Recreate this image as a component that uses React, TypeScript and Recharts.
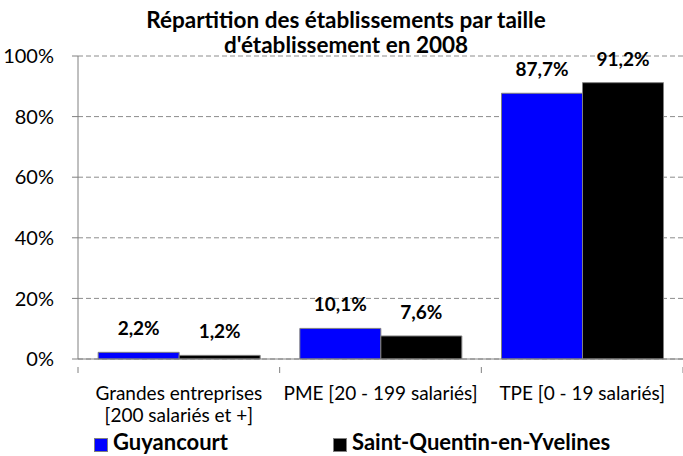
import { BarChart, Bar, XAxis, YAxis, CartesianGrid, LabelList } from 'recharts'

document.body.style.margin = '0'

const categories = ['Grandes entreprises\n[200 salariés et +]', 'PME [20 - 199 salariés]', 'TPE [0 - 19 salariés]']
const guyancourt = [2.2, 10.1, 87.7]
const sqy = [1.2, 7.6, 91.2]
const yTicks = [0, 20, 40, 60, 80, 100]

const data = categories.map((name, i) => ({ name, guyancourt: guyancourt[i], sqy: sqy[i] }))

const font = 'Lato, "Open Sans", sans-serif'
const fmt = (v: any) => Number(v).toFixed(1).replace('.', ',') + '%'

function CategoryTick(props: any) {
  const { x, y, payload, index, visibleTicksCount } = props
  const half = payload.offset ?? 0
  const lines = String(payload.value).split('\n')
  return (
    <g>
      <line x1={x - half} x2={x - half} y1={y} y2={y + 6} stroke="#808080" />
      {index === visibleTicksCount - 1 && (
        <line x1={x + half} x2={x + half} y1={y} y2={y + 6} stroke="#808080" />
      )}
      {lines.map((l, i) => (
        <text key={i} x={x} y={y + 33 + i * 22} textAnchor="middle" fontSize={19} fontFamily={font} fill="#000">
          {l}
        </text>
      ))}
    </g>
  )
}

const legendItems = [
  { label: 'Guyancourt', color: '#0000FF', left: 94 },
  { label: 'Saint-Quentin-en-Yvelines', color: '#000000', left: 333 },
]

const labelStyle = { fontWeight: 'bold', fontSize: 19, fontFamily: font, fill: '#000' }

export default function App() {
  return (
    <div style={{ position: 'relative', width: 683, height: 456, background: '#fff', overflow: 'hidden' }}>
      <div style={{ position: 'absolute', left: 46, width: 600, top: 7, textAlign: 'center', fontFamily: font, fontWeight: 'bold', fontSize: 22.5, lineHeight: '25px', zIndex: 1 }}>
        Répartition des établissements par taille<br />d'établissement en 2008
      </div>
      <BarChart width={683} height={456} data={data} margin={{ top: 56, right: 0, bottom: 67, left: 0 }} barGap={0} barCategoryGap="10%">
        <CartesianGrid vertical={false} stroke="#8c8c8c" strokeDasharray="5 3" />
        <XAxis dataKey="name" height={30} axisLine={{ stroke: '#808080' }} tickLine={false} tick={<CategoryTick />} interval={0} />
        <YAxis
          width={78}
          domain={[0, 100]}
          ticks={yTicks}
          tickFormatter={(v) => v + '%'}
          axisLine={{ stroke: '#808080' }}
          tickLine={{ stroke: '#808080' }}
          tickSize={6}
          tickMargin={18}
          tick={{ fill: '#000', fontSize: 20, fontFamily: font }}
        />
        <Bar dataKey="guyancourt" fill="#0000FF" stroke="#808080" isAnimationActive={false}>
          <LabelList dataKey="guyancourt" position="top" offset={17} formatter={fmt} style={labelStyle} />
        </Bar>
        <Bar dataKey="sqy" fill="#000000" stroke="#808080" isAnimationActive={false}>
          <LabelList dataKey="sqy" position="top" offset={17} formatter={fmt} style={labelStyle} />
        </Bar>
      </BarChart>
      {legendItems.map((it) => (
        <div key={it.label} style={{ position: 'absolute', left: it.left, top: 431, display: 'flex', alignItems: 'center', fontFamily: font, fontWeight: 'bold', fontSize: 22, lineHeight: '22px', whiteSpace: 'nowrap' }}>
          <span style={{ display: 'inline-block', width: 12, height: 12, background: it.color, border: '1px solid #808080', marginRight: 5, position: 'relative', top: 3 }} />
          {it.label}
        </div>
      ))}
    </div>
  )
}
